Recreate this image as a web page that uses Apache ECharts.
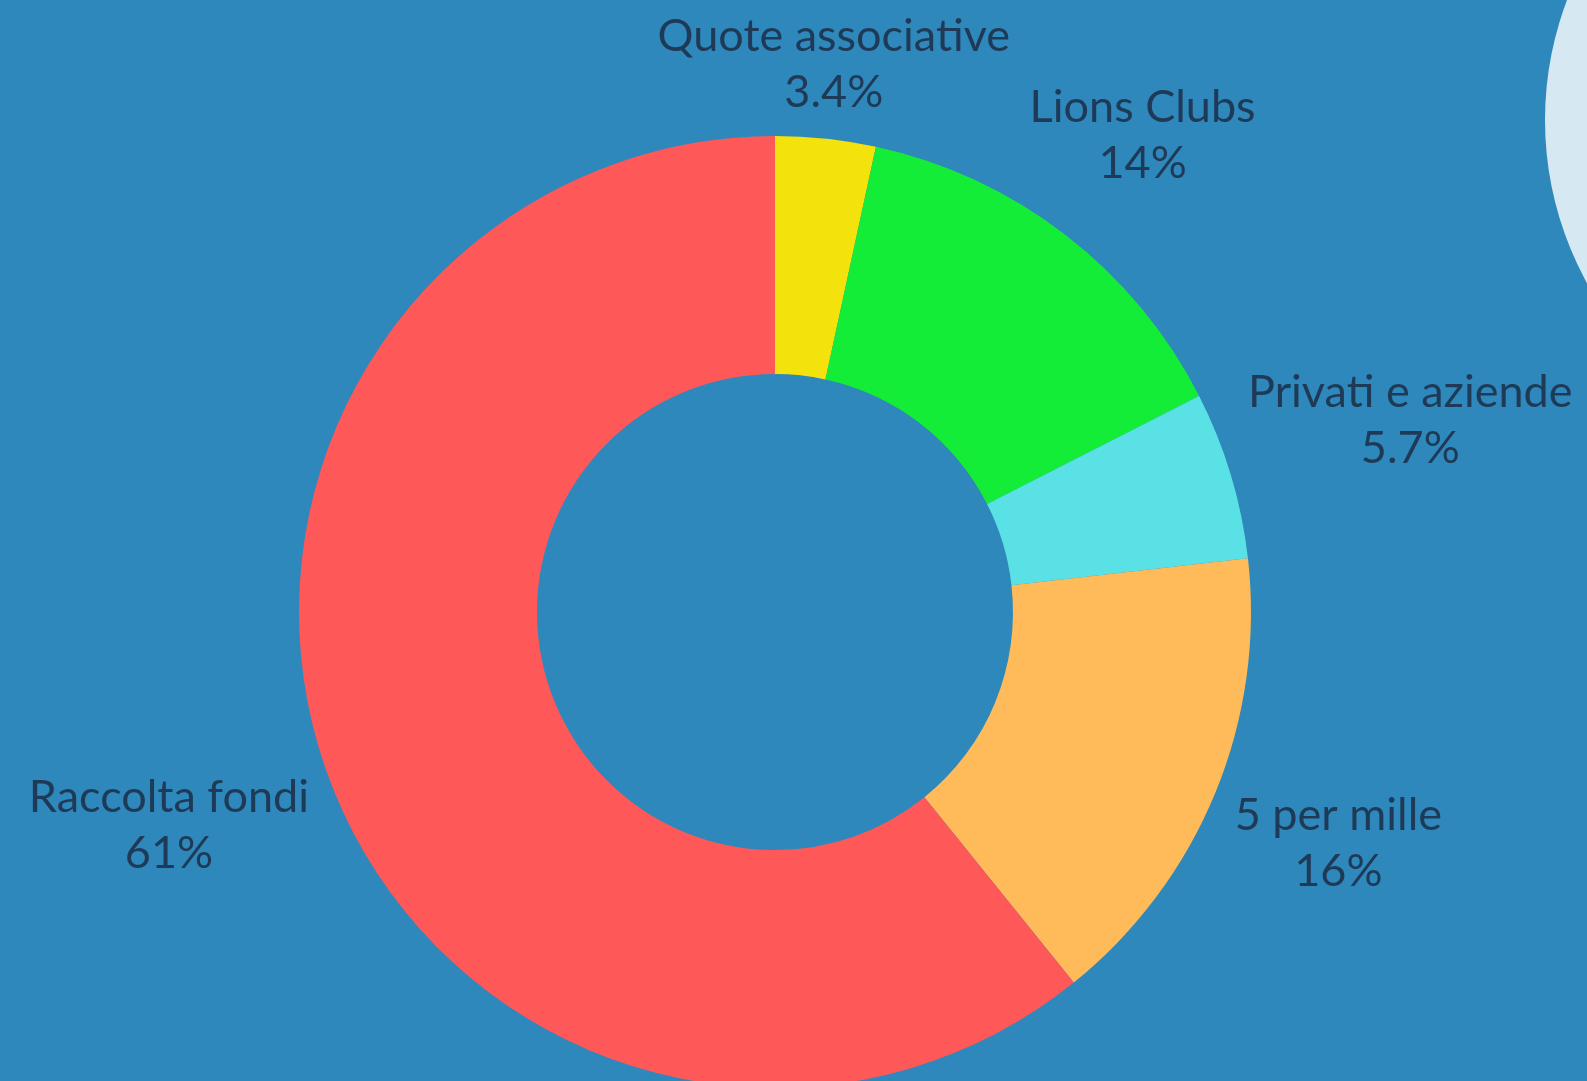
<!DOCTYPE html>
<html>
<head>
<meta charset="utf-8">
<script src="https://cdn.jsdelivr.net/npm/echarts@6/dist/echarts.min.js"></script>
<style>
html,body{margin:0;padding:0;background:#2e88bb;}
#chart{width:1587px;height:1081px;}
</style>
</head>
<body>
<div id="chart"></div>
<script>
const categories = ['Quote associative', 'Lions Clubs', 'Privati e aziende', '5 per mille', 'Raccolta fondi'];
const values = [3.4, 14.1, 5.7, 16.0, 60.8];
const colors = ['#f4e20c', '#14ed37', '#5ae1e6', '#ffbb5a', '#ff5858'];

const CX = 775, CY = 612, R_OUT = 476, R_IN = 238, GAP = 16;
const total = values.reduce((a, b) => a + b, 0);

function midDir(i) {
  let cum = 0;
  for (let k = 0; k < i; k++) cum += values[k];
  const th = 2 * Math.PI * (cum + values[i] / 2) / total;
  return [Math.sin(th), -Math.cos(th)];
}

function placeLabel(p) {
  const [ux, uy] = midDir(p.dataIndex);
  const hw = p.labelRect.width / 2, hh = p.labelRect.height / 2;
  let lo = 0, hi = 600;
  for (let it = 0; it < 40; it++) {
    const t = (lo + hi) / 2;
    const cx = CX + ux * (R_OUT + t), cy = CY + uy * (R_OUT + t);
    const nx = Math.min(Math.max(CX, cx - hw), cx + hw);
    const ny = Math.min(Math.max(CY, cy - hh), cy + hh);
    const d = Math.hypot(nx - CX, ny - CY);
    if (d >= R_OUT + GAP) hi = t; else lo = t;
  }
  return {
    x: CX + ux * (R_OUT + hi),
    y: CY + uy * (R_OUT + hi),
    align: 'center',
    verticalAlign: 'middle'
  };
}

const chart = echarts.init(document.getElementById('chart'));
chart.setOption({
  backgroundColor: '#2e88bb',
  animation: false,
  graphic: [{
    type: 'circle',
    shape: { cx: 1883, cy: 120, r: 338 },
    style: { fill: '#d6e8f2' },
    silent: true
  }],
  series: [{
    type: 'pie',
    center: [CX, CY],
    radius: [R_IN, R_OUT],
    startAngle: 90,
    clockwise: true,
    avoidLabelOverlap: false,
    data: categories.map((c, i) => ({ name: c, value: values[i], itemStyle: { color: colors[i] } })),
    label: {
      show: true,
      position: 'outside',
      color: '#1f3a57',
      fontFamily: 'Lato',
      fontSize: 45,
      lineHeight: 56,
      formatter: p => p.name + '\n' + Number(p.percent.toPrecision(2)) + '%'
    },
    labelLine: { show: false },
    labelLayout: placeLabel,
    emphasis: { disabled: true }
  }]
});
</script>
</body>
</html>
